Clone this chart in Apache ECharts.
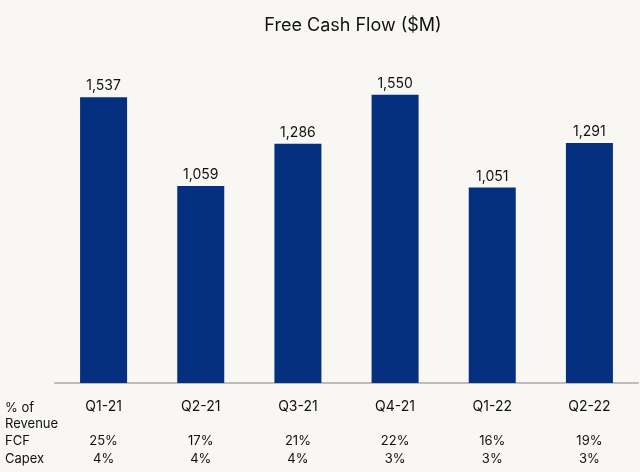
<!DOCTYPE html>
<html><head><meta charset="utf-8">
<script src="https://cdn.jsdelivr.net/npm/echarts@6/dist/echarts.min.js"></script>
<style>html,body{margin:0;padding:0;background:#f8f7f4}#c{width:640px;height:472px}</style>
</head><body><div id="c"></div>
<script>
const categories = ['Q1-21','Q2-21','Q3-21','Q4-21','Q1-22','Q2-22'];
const fcfValues = [1537, 1059, 1286, 1550, 1051, 1291];
const fcfPct = ['25%','17%','21%','22%','16%','19%'];
const capexPct = ['4%','4%','4%','3%','3%','3%'];
const rowLabels = ['% of\nRevenue', 'FCF', 'Capex'];

const font = 'Inter, "Noto Sans", sans-serif';
const chart = echarts.init(document.getElementById('c'));
chart.setOption({
  backgroundColor: '#f8f7f4',
  animation: false,
  title: { text: 'Free Cash Flow ($M)', left: 348, top: 12, textAlign: 'center',
    textStyle: { fontFamily: font, fontSize: 18, fontWeight: 'normal', color: '#111' } },
  grid: { left: 55, right: 2, top: 60, bottom: 89 },
  xAxis: [
    { type: 'category', data: categories, axisTick: {show:false},
      axisLine: { lineStyle: { color: '#bdbdbd', width: 2 } },
      axisLabel: { margin: 17, fontFamily: font, fontSize: 14, color: '#111' } },
    { type: 'category', data: fcfPct, position: 'bottom', offset: 52,
      axisTick: {show:false}, axisLine: {show:false},
      axisLabel: { margin: 0, fontFamily: font, fontSize: 13, color: '#111' } },
    { type: 'category', data: capexPct, position: 'bottom', offset: 70,
      axisTick: {show:false}, axisLine: {show:false},
      axisLabel: { margin: 0, fontFamily: font, fontSize: 13, color: '#111' } }
  ],
  yAxis: { type: 'value', min: 0, max: 1737, show: false, splitLine: {show:false} },
  series: [{
    type: 'bar', data: fcfValues, barWidth: 47, xAxisIndex: 0,
    itemStyle: { color: '#04307f' },
    label: { show: true, position: 'top', distance: 4, fontFamily: font, fontSize: 14, color: '#111',
      formatter: p => p.value.toLocaleString('en-US') }
  }],
  graphic: [
    { type: 'text', left: 5, top: 400, style: { text: rowLabels[0], font: '13px ' + font, fill: '#111', lineHeight: 16 } },
    { type: 'text', left: 5, top: 435, style: { text: rowLabels[1], font: '13px ' + font, fill: '#111' } },
    { type: 'text', left: 5, top: 453, style: { text: rowLabels[2], font: '13px ' + font, fill: '#111' } }
  ]
});
</script></body></html>
